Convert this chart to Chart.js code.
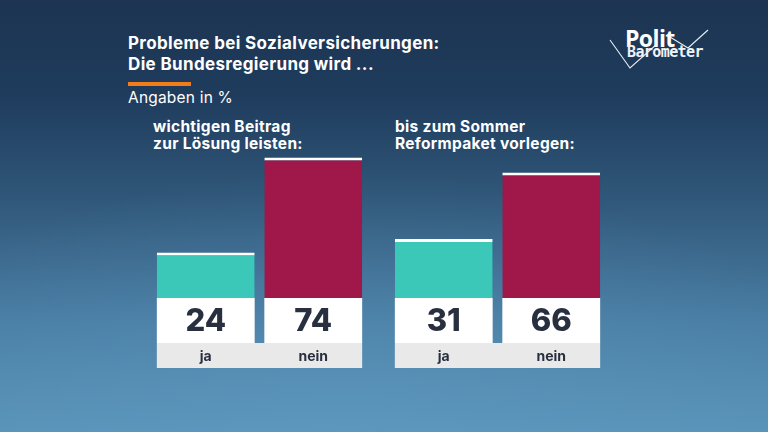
<!DOCTYPE html>
<html>
<head>
<meta charset="utf-8">
<script src="https://cdn.jsdelivr.net/npm/chart.js@4"></script>
<style>
  html, body { margin:0; padding:0; }
  body { width:768px; height:432px; position:relative; overflow:hidden;
    font-family: "Inter", "Noto Sans", sans-serif;
    background:
      radial-gradient(ellipse 70% 60% at 45% 100%, rgba(100,160,200,0.35), rgba(100,160,200,0) 100%),
      linear-gradient(180deg, #1c3451 0%, #1f3c5d 22%, #2f5678 45%, #4a7ea4 75%, #5a93b8 100%);
  }
  .t { position:absolute; color:#fff; white-space:nowrap; }
  .title { left:128px; top:33px; font-size:17px; font-weight:700; line-height:21px; letter-spacing:0.35px; }
  .bar-or { position:absolute; left:128px; top:82px; width:63px; height:4px; background:#f07d1a; }
  .unit { left:128px; top:88px; font-size:15.5px; font-weight:400; letter-spacing:0.2px; }
  .sub { font-size:15.5px; font-weight:700; line-height:17px; top:118px; letter-spacing:0.3px; }
  .wrap { position:absolute; }
  .logo1 { left:625px; top:22px; font-size:23px; font-weight:700; letter-spacing:-0.6px; font-family:"Open Sans","Noto Sans",sans-serif; }
  .logo2 { left:627px; top:43px; font-size:15px; font-weight:700; font-family:"DejaVu Sans Mono","Liberation Mono",monospace; letter-spacing:-0.6px; color:#eef3f8; }
</style>
</head>
<body>
<svg style="position:absolute;left:0;top:0" width="768" height="432">
  <polyline points="610,40 630,68 657,44" fill="none" stroke="#e8eef5" stroke-width="1.1"/>
  <polyline points="670,37 688,48 708,30" fill="none" stroke="#e8eef5" stroke-width="1.1"/>
</svg>
<div class="t logo1">Polit</div>
<div class="t logo2">Barometer</div>

<div class="t title">Probleme bei Sozialversicherungen:<br>Die Bundesregierung wird ...</div>
<div class="bar-or"></div>
<div class="t unit">Angaben in %</div>

<div class="t sub" style="left:153px">wichtigen Beitrag<br>zur Lösung leisten:</div>
<div class="t sub" style="left:395px">bis zum Sommer<br>Reformpaket vorlegen:</div>

<div class="wrap" style="left:152px; top:100px; width:215px; height:272px;"><canvas id="c1"></canvas></div>
<div class="wrap" style="left:390px; top:100px; width:215px; height:272px;"><canvas id="c2"></canvas></div>

<script>
const categories = ["ja", "nein"];
const valuesQ1 = [24, 74];
const valuesQ2 = [31, 66];
const barColors = ["#3cc8b9", "#a0184a"];

const boxesPlugin = {
  id: 'boxes',
  afterDatasetsDraw(chart) {
    const ctx = chart.ctx;
    const meta = chart.getDatasetMeta(0);
    const area = chart.chartArea;
    const valH = 45, labH = 25;
    ctx.save();
    const first = meta.data[0], last = meta.data[meta.data.length - 1];
    const x0 = first.x - first.width / 2, x1 = last.x + last.width / 2;
    ctx.fillStyle = '#e9e9e9';
    ctx.fillRect(x0, area.bottom + valH, x1 - x0, labH);
    meta.data.forEach((bar, i) => {
      const left = bar.x - bar.width / 2;
      ctx.fillStyle = '#ffffff';
      ctx.fillRect(left, area.bottom, bar.width, valH);
      ctx.fillStyle = '#283040';
      ctx.textAlign = 'center';
      ctx.textBaseline = 'middle';
      ctx.font = '800 31px Inter, "Noto Sans", sans-serif';
      ctx.fillText(String(chart.data.datasets[0].data[i]), bar.x, area.bottom + valH / 2 + 1);
      ctx.font = '700 14px Inter, "Noto Sans", sans-serif';
      ctx.fillText(chart.data.labels[i], bar.x, area.bottom + valH + labH / 2 + 1);
    });
    ctx.restore();
  }
};

function makeChart(id, values) {
  return new Chart(document.getElementById(id), {
    type: 'bar',
    data: {
      labels: categories,
      datasets: [{
        data: values,
        backgroundColor: barColors,
        borderColor: '#ffffff',
        borderWidth: { top: 3, left: 0, right: 0, bottom: 0 },
        borderSkipped: false,
        barPercentage: 0.91,
        categoryPercentage: 1.0
      }]
    },
    options: {
      responsive: true,
      maintainAspectRatio: false,
      animation: false,
      layout: { padding: { top: 8, bottom: 74, left: 0, right: 0 } },
      plugins: { legend: { display: false }, tooltip: { enabled: false } },
      scales: {
        x: { display: false },
        y: { display: false, min: 0, max: 100 }
      }
    },
    plugins: [boxesPlugin]
  });
}
makeChart('c1', valuesQ1);
makeChart('c2', valuesQ2);
</script>
</body>
</html>
